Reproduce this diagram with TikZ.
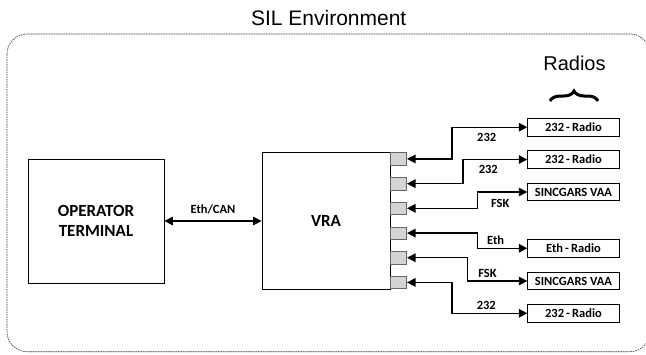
\documentclass[tikz,border=0pt]{standalone}
\usepackage{fontspec}
\setmainfont{Carlito}
\newfontfamily\arialfont{Liberation Sans}
\usetikzlibrary{arrows.meta,decorations.pathreplacing}
\begin{document}
\begin{tikzpicture}[x=1pt,y=-1pt,
  box/.style={draw, line width=0.8pt, align=center, inner sep=0pt,
    font=\bfseries\fontsize{17}{20}\selectfont},
  port/.style={draw=black!60, fill=black!17, line width=0.6pt, inner sep=0pt,
    minimum width=16.7pt, minimum height=12.5pt},
  radio/.style={draw, line width=0.8pt, inner sep=0pt, minimum width=91.6pt,
    minimum height=17.7pt, font=\bfseries\fontsize{12.5}{14}\selectfont},
  lbl/.style={inner sep=0pt, font=\bfseries\fontsize{12.5}{14}\selectfont},
  link/.style={{Triangle[length=8.5pt,width=8.5pt]}-{Triangle[length=8.5pt,width=8.5pt]}, line width=1.3pt},
  env/.style={draw=black!80, line width=0.6pt, dash pattern=on 1.6pt off 0.9pt, rounded corners=20pt}
]
\clip (0,0) rectangle (646,354);
\useasboundingbox (0,0) rectangle (646,354);

% environment frame
\draw[env] (7,34) rectangle (650,351.7);
\node[inner sep=0pt, font=\arialfont\fontsize{21}{24}\selectfont] (title) at (328.7,17.8) {SIL Environment};
\node[inner sep=0pt, font=\arialfont\fontsize{20}{24}\selectfont] (radios) at (574.5,63.7) {Radios};
\draw[decorate, decoration={brace, amplitude=10pt}, line width=3pt] (550,101) -- (598,101);

% main boxes
\node[box, minimum width=136pt, minimum height=124pt] (op) at (96,221.3) {OPERATOR\\TERMINAL};
\node[box, minimum width=128pt, minimum height=136.3pt] (vra) at (326,220.9) {VRA};

% ports
\node[port] (p1) at (398.35,158.95) {};
\node[port] (p2) at (398.35,183.65) {};
\node[port] (p3) at (398.35,208.35) {};
\node[port] (p4) at (398.35,233.05) {};
\node[port] (p5) at (398.35,257.75) {};
\node[port] (p6) at (398.35,282.45) {};

% radios
\node[radio] (r1) at (573.5,127.2) {232\,-\,Radio};
\node[radio] (r2) at (573.5,159.5) {232\,-\,Radio};
\node[radio] (r3) at (573.5,192) {SINCGARS VAA};
\node[radio] (r4) at (573.5,248.3) {Eth\,-\,Radio};
\node[radio] (r5) at (573.5,281) {SINCGARS VAA};
\node[radio] (r6) at (573.5,313.3) {232\,-\,Radio};

% connectors
\draw[link] (op.east |- 0,221) coordinate (oe) -- (vra.west |- oe);
\node[lbl] (ethcan) at (213,209.5) {Eth/CAN};

\draw[link] (p1.east) -- ++(45,0) |- (r1.west);
\draw[link] (p2.east) -- ++(56,0) |- (r2.west);
\draw[link] (p3.east) -- ++(70.3,0) |- (r3.west);
\draw[link] (p4.east) -- ++(70.3,0) |- (r4.west);
\draw[link] (p5.east) -- ++(60.6,0) |- (r5.west);
\draw[link] (p6.east) -- ++(45,0) |- (r6.west);

\node[lbl] (l1) at (486.7,137.5) {232};
\node[lbl] (l2) at (488.3,169.2) {232};
\node[lbl] (l3) at (500.2,203.3) {FSK};
\node[lbl] (l4) at (495.7,240) {Eth};
\node[lbl] (l5) at (487.5,273) {FSK};
\node[lbl] (l6) at (486.3,305.8) {232};
\end{tikzpicture}
\end{document}
